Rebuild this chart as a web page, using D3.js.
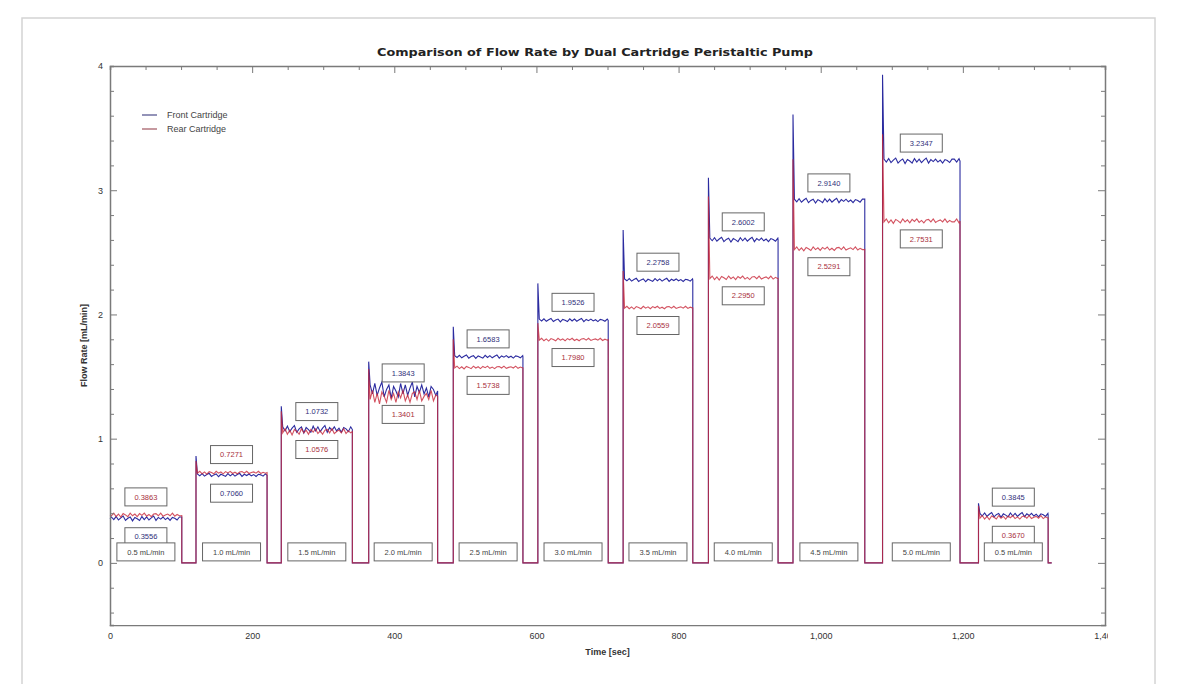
<!DOCTYPE html>
<html>
<head>
<meta charset="utf-8">
<script src="https://cdn.jsdelivr.net/npm/d3@7"></script>
<style>
  body { margin: 0; background: #fff; }
  svg { display: block; font-family: "Liberation Sans", Arial, sans-serif; }
  .axis path, .axis line { stroke: #7a7a7a; }
  .axis path { stroke-width: 1.5; }
  .axis text { fill: #333; font-size: 9px; }
</style>
</head>
<body>
<div id="chart"></div>
<script>
// segment timing (sec) and set pump rates
const segStart = [0, 121, 241, 364, 483, 602, 722, 842, 961, 1087, 1222];
const segEnd = [101, 221, 341, 461, 581, 701, 820, 940, 1062, 1196, 1320];
const setRates = ["0.5 mL/min", "1.0 mL/min", "1.5 mL/min", "2.0 mL/min", "2.5 mL/min",
  "3.0 mL/min", "3.5 mL/min", "4.0 mL/min", "4.5 mL/min", "5.0 mL/min", "0.5 mL/min"];

// mean flow rate per segment (mL/min)
const frontRate = [0.3556, 0.7060, 1.0732, 1.3843, 1.6583, 1.9526, 2.2758, 2.6002, 2.9140, 3.2347, 0.3845];
const rearRate = [0.3863, 0.7271, 1.0576, 1.3401, 1.5738, 1.7980, 2.0559, 2.2950, 2.5291, 2.7531, 0.3670];

// start-up overshoot per segment
const frontPeak = [0.3556, 0.86, 1.26, 1.62, 1.90, 2.25, 2.68, 3.10, 3.61, 3.93, 0.48];
const rearPeak = [0.3863, 0.82, 1.22, 1.56, 1.80, 1.93, 2.35, 2.95, 3.25, 3.45, 0.46];

// plateau wiggle (mL/min), and how strong it is per segment
const frontRipple = [0.02, -0.01, 0.025, -0.015, 0.01, 0.03, -0.02, 0.005, 0.02, -0.025, 0.015, 0.0,
  -0.02, 0.025, -0.01, 0.02, -0.015, 0.01, 0.03, -0.02, 0.015, -0.005, 0.02, -0.01, 0.01, -0.02, 0.015,
  0.005, -0.015, 0.02];
const rearRipple = [-0.01, 0.02, -0.02, 0.01, -0.025, 0.015, 0.0, -0.02, 0.02, -0.01, 0.01, -0.02,
  0.015, -0.005, 0.02, -0.015, 0.005, -0.02, 0.01, 0.015, -0.01, 0.02, -0.015, 0.0, 0.01, -0.01, 0.02,
  -0.015, 0.005, -0.01];
const rippleScale = [0.7, 0.5, 1.1, 2.4, 0.5, 0.5, 0.5, 0.7, 0.7, 0.8, 0.7];

const xTicks = d3.range(0, 1401, 50);
const xLabels = [0, 200, 400, 600, 800, 1000, 1200, 1400];
const yTicks = d3.range(-0.4, 4.01, 0.2).map(v => +v.toFixed(1));
const yLabels = [0, 1, 2, 3, 4];

const W = 1178, H = 684;
const pLeft = 110, pRight = 1105, pTop = 66, pBottom = 625;

const x = d3.scaleLinear().domain([0, 1400]).range([pLeft, pRight]);
const y = d3.scaleLinear().domain([-0.5, 4]).range([pBottom, pTop]);

const svg = d3.select("#chart").append("svg").attr("width", W).attr("height", H);

// light outer frame
svg.append("rect")
  .attr("x", 22).attr("y", 18).attr("width", 1133).attr("height", 700)
  .attr("fill", "none").attr("stroke", "#d4d4d4").attr("stroke-width", 1.5);

// build a trace for one cartridge
function buildTrace(rate, peak, ripple) {
  const pts = [];
  segStart.forEach((t0, i) => {
    const t1 = segEnd[i];
    if (i === 0) {
      pts.push([t0, rate[i]]);
    } else {
      pts.push([t0, 0]);
      pts.push([t0, peak[i]]);
    }
    let k = 0;
    for (let t = t0 + 2; t < t1; t += 3.3) {
      pts.push([t, rate[i] + ripple[k % ripple.length] * rippleScale[i]]);
      k++;
    }
    pts.push([t1, rate[i]]);
    pts.push([t1, 0]);
    if (i === segStart.length - 1) pts.push([t1 + 5, 0]);
  });
  return pts;
}

const line = d3.line().x(d => x(d[0])).y(d => y(d[1]));

const plot = svg.append("g");
plot.append("path")
  .datum(buildTrace(frontRate, frontPeak, frontRipple))
  .attr("d", line).attr("fill", "none")
  .attr("stroke", "#2c2ca0").attr("stroke-width", 1.1);
plot.append("path")
  .datum(buildTrace(rearRate, rearPeak, rearRipple))
  .attr("d", line).attr("fill", "none")
  .attr("stroke", "#c8283a").attr("stroke-width", 1.1).attr("opacity", 0.8);

// value annotations
const boxW = 42, boxH = 18;
segStart.forEach((t0, i) => {
  const cx = x((t0 + segEnd[i]) / 2);
  const frontUp = frontRate[i] >= rearRate[i];
  const upper = frontUp ? frontRate[i] : rearRate[i];
  const lower = frontUp ? rearRate[i] : frontRate[i];
  const items = [
    { v: upper, cy: y(upper) - 18, c: frontUp ? "#30307a" : "#a8303c" },
    { v: lower, cy: y(lower) + 18, c: frontUp ? "#a8303c" : "#30307a" }
  ];
  items.forEach(it => {
    plot.append("rect")
      .attr("x", cx - boxW / 2).attr("y", it.cy - boxH / 2)
      .attr("width", boxW).attr("height", boxH)
      .attr("fill", "#fff").attr("stroke", "#666").attr("stroke-width", 1);
    plot.append("text")
      .attr("x", cx).attr("y", it.cy).attr("dy", "0.35em")
      .attr("text-anchor", "middle").attr("font-size", 7.5)
      .attr("fill", it.c).text(it.v.toFixed(4));
  });

  // set rate box above zero line
  const by = y(0) - 2 - boxH;
  plot.append("rect")
    .attr("x", cx - 29).attr("y", by).attr("width", 58).attr("height", boxH)
    .attr("fill", "#fff").attr("stroke", "#666").attr("stroke-width", 1);
  plot.append("text")
    .attr("x", cx).attr("y", by + boxH / 2).attr("dy", "0.35em")
    .attr("text-anchor", "middle").attr("font-size", 7.5)
    .attr("fill", "#444").text(setRates[i]);
});

// axes, ticks pointing inward on all four sides
svg.append("clipPath").attr("id", "xclip")
  .append("rect").attr("x", 0).attr("y", 0).attr("width", 1108).attr("height", H);

const xAxis = svg.append("g").attr("class", "axis")
  .attr("transform", `translate(0,${pBottom})`)
  .attr("clip-path", "url(#xclip)")
  .call(d3.axisBottom(x).tickValues(xTicks).tickSize(-4).tickPadding(8)
    .tickFormat(d => xLabels.includes(d) ? d3.format(",")(d) : ""));
xAxis.selectAll(".tick line").filter(d => xLabels.includes(d)).attr("y2", -7);

const xTop = svg.append("g").attr("class", "axis")
  .attr("transform", `translate(0,${pTop})`)
  .call(d3.axisTop(x).tickValues(xTicks).tickSize(-4).tickFormat(""));
xTop.selectAll(".tick line").filter(d => xLabels.includes(d)).attr("y2", 7);

const yAxis = svg.append("g").attr("class", "axis")
  .attr("transform", `translate(${pLeft},0)`)
  .call(d3.axisLeft(y).tickValues(yTicks).tickSize(-4).tickPadding(7)
    .tickFormat(d => yLabels.includes(d) ? d : ""));
yAxis.selectAll(".tick line").filter(d => yLabels.includes(d)).attr("x2", 7);

const yRight = svg.append("g").attr("class", "axis")
  .attr("transform", `translate(${pRight},0)`)
  .call(d3.axisRight(y).tickValues(yTicks).tickSize(-4).tickFormat(""));
yRight.selectAll(".tick line").filter(d => yLabels.includes(d)).attr("x2", -7);

// titles
svg.append("text")
  .attr("x", 595).attr("y", 56).attr("text-anchor", "middle")
  .attr("font-family", "'DejaVu Sans', sans-serif").attr("font-weight", "bold")
  .attr("font-size", 11).attr("fill", "#222")
  .attr("textLength", 436).attr("lengthAdjust", "spacingAndGlyphs")
  .text("Comparison of Flow Rate by Dual Cartridge Peristaltic Pump");

svg.append("text")
  .attr("x", (pLeft + pRight) / 2).attr("y", 655).attr("text-anchor", "middle")
  .attr("font-size", 9).attr("font-weight", "bold").attr("fill", "#333")
  .text("Time [sec]");

svg.append("text")
  .attr("transform", `translate(87,${(pTop + pBottom) / 2}) rotate(-90)`)
  .attr("text-anchor", "middle")
  .attr("font-size", 9).attr("font-weight", "bold").attr("fill", "#333")
  .text("Flow Rate [mL/min]");

// legend
const legend = [
  { name: "Front Cartridge", color: "#4a4a88", y: 115 },
  { name: "Rear Cartridge", color: "#a05560", y: 129 }
];
legend.forEach(l => {
  svg.append("line")
    .attr("x1", 142).attr("x2", 157).attr("y1", l.y).attr("y2", l.y)
    .attr("stroke", l.color).attr("stroke-width", 1.2);
  svg.append("text")
    .attr("x", 167).attr("y", l.y).attr("dy", "0.35em")
    .attr("font-size", 9).attr("fill", "#444").text(l.name);
});
</script>
</body>
</html>
